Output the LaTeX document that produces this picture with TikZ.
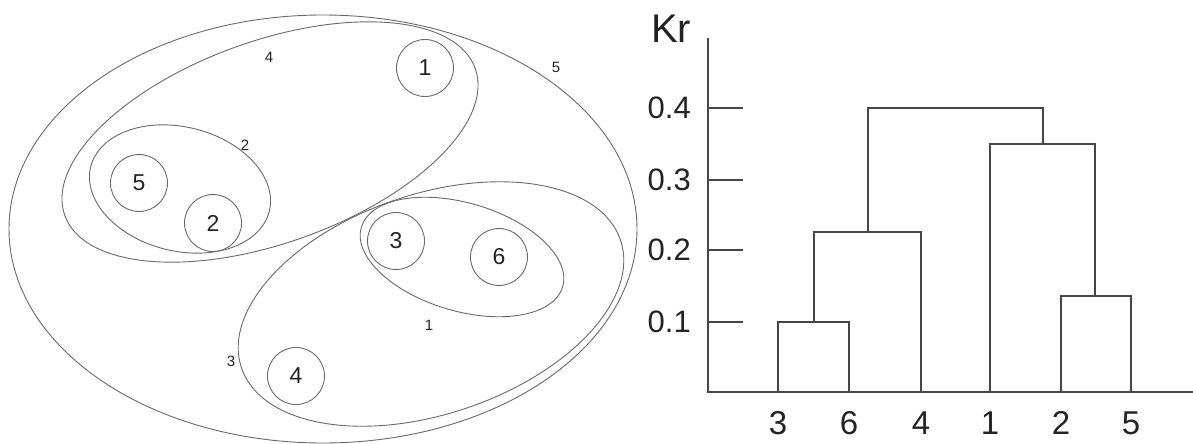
\documentclass[tikz,border=0pt]{standalone}
\usepackage{fontspec}
\setmainfont{Liberation Sans}
\usepackage{tikz}
\usetikzlibrary{positioning}
\definecolor{inkline}{RGB}{105,105,105}
\definecolor{treeline}{RGB}{70,70,70}
\definecolor{inktext}{RGB}{35,35,35}

\begin{document}
\begin{tikzpicture}[x=1pt, y=-1pt, text=inktext,
  el/.style={draw=inkline, line width=0.9pt},
  obj/.style={circle, draw=inkline, line width=0.9pt, minimum size=57pt, inner sep=0pt, font=\fontsize{23}{23}\selectfont},
  tag/.style={inner sep=0pt, font=\fontsize{15}{15}\selectfont},
  tr/.style={draw=treeline, line width=2.3pt},
  tick/.style={anchor=east, inner sep=0pt, font=\fontsize{31}{31}\selectfont},
  leaf/.style={inner sep=0pt, font=\fontsize{33}{33}\selectfont}]
  \useasboundingbox (0,0) rectangle (1193,444);
  % cluster sets
  \draw[el] (323,229) ellipse [x radius=314pt, y radius=214pt];
  \draw[el, rotate around={19.7:(270,142)}] (270,142) ellipse [x radius=218pt, y radius=101pt];
  \draw[el, rotate around={-14:(180,189)}] (180,189) ellipse [x radius=92pt, y radius=62pt];
  \draw[el, rotate around={18.6:(431,304)}] (431,304) ellipse [x radius=200pt, y radius=110pt];
  \draw[el, rotate around={-16.5:(462,257)}] (462,257) ellipse [x radius=105pt, y radius=54pt];
  \node[obj] (o1) at (425,68) {1};
  \node[obj] (o5) at (139,183) {5};
  \node[obj] (o2) at (213,223) {2};
  \node[obj] (o3) at (396,241) {3};
  \node[obj] (o6) at (499,257) {6};
  \node[obj] (o4) at (296,376) {4};
  \node[tag] (s4) at (269,57) {4};
  \node[tag] (s5) at (556,67) {5};
  \node[tag] (s2) at (245,145) {2};
  \node[tag] (s1) at (429,325) {1};
  \node[tag] (s3) at (231,361) {3};
  % dendrogram
  \node[inner sep=0pt, font=\fontsize{40}{40}\selectfont] (kr) at (671,29) {Kr};
  \draw[tr] (708,38) -- (708,392) -- (1193,392);
  \foreach \v/\y [count=\i] in {0.1/321.7, 0.2/250, 0.3/180, 0.4/108.3} {
    \draw[tr] (708,\y) -- (743,\y);
    \node[tick] (tk\i) at (691,\y) {\v};
  }
  \foreach \x/\n in {778/3, 849/6, 921/4, 990/1, 1061/2, 1131/5}
    \node[leaf] (lf\n) at (\x,423) {\n};
  \draw[tr] (778,392) |- (849,321.7) -- (849,392);
  \draw[tr] (814,321.7) |- (921,232) -- (921,392);
  \draw[tr] (1061,392) |- (1131,296) -- (1131,392);
  \draw[tr] (990,392) |- (1095,144) -- (1095,296);
  \draw[tr] (868,232) |- (1043,108.3) -- (1043,144);
\end{tikzpicture}
\end{document}
